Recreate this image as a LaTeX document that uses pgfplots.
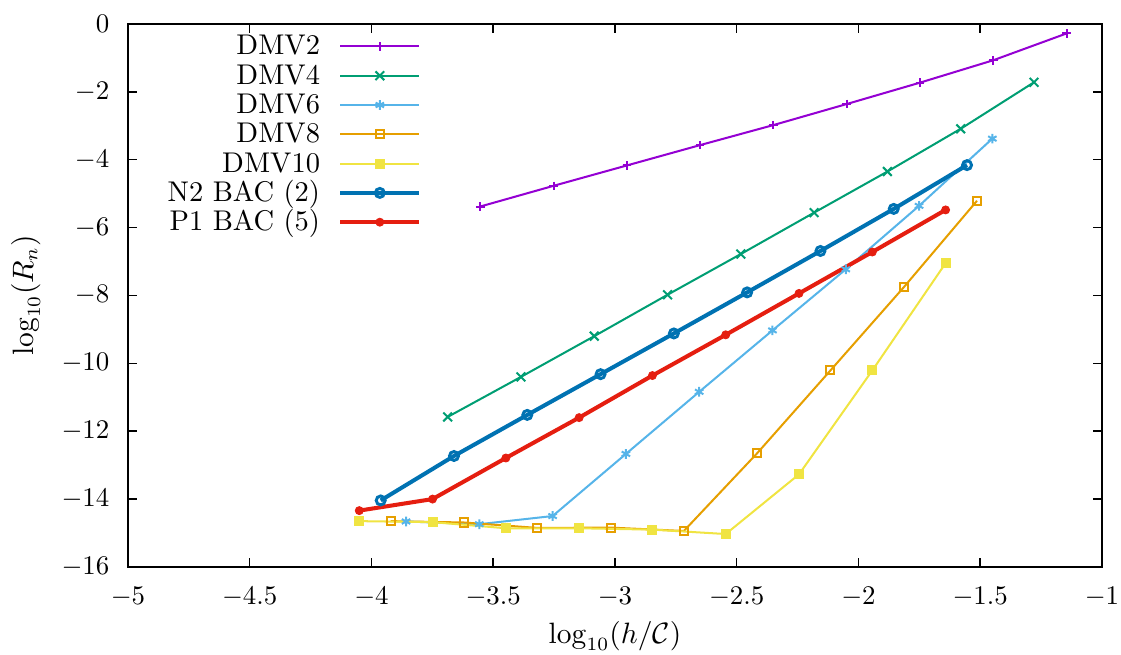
\documentclass[border=0pt]{standalone}
\usepackage{pgfplots}
\pgfplotsset{compat=1.18}
\definecolor{cDMVa}{HTML}{9400D3}
\definecolor{cDMVb}{HTML}{009E73}
\definecolor{cDMVc}{HTML}{56B4E9}
\definecolor{cDMVd}{HTML}{E69F00}
\definecolor{cDMVe}{HTML}{F0E442}
\definecolor{cNtwo}{HTML}{0072B2}
\definecolor{cPone}{HTML}{E51E10}
\begin{document}
\begin{tikzpicture}
\begin{axis}[
  scale only axis, width=362.3pt, height=202pt,
  xmin=-5, xmax=-1, ymin=-16, ymax=0,
  xtick={-5,-4.5,-4,-3.5,-3,-2.5,-2,-1.5,-1},
  ytick={-16,-14,-12,-10,-8,-6,-4,-2,0},
  major tick length=3.3pt,
  tick style={black, line width=0.55pt},
  axis line style={line width=0.7pt},
  xticklabel style={yshift=-4.1pt},
  yticklabel style={xshift=-3.4pt},
  xlabel={$\log_{10}(h/\mathcal{C})$},
  ylabel={$\log_{10}(R_n)$},
  label style={font=\fontsize{10.6}{12.7}\selectfont},
  xlabel style={at={(axis description cs:0.5,0)}, yshift=-28.3pt, anchor=base},
  ylabel style={at={(axis description cs:0,0.5)}, yshift=35.3pt, anchor=base},
  legend plot pos=right,
  legend cell align=right,
  legend style={draw=none, fill=none, at={(0.3018,0.9866)}, anchor=north east,
    inner sep=0pt, row sep=0pt, column sep=3.4pt,
    font=\fontsize{10.6}{12.7}\selectfont,
    nodes={inner xsep=3.4pt, inner ysep=0pt, text height=8.6pt, text depth=2.3pt}},
  legend image code/.code={\draw[mark repeat=2,mark phase=2,#1] plot coordinates {(0pt,0pt)(14.7pt,0pt)(29.4pt,0pt)};},
]
\addplot[cDMVa, line width=0.75pt, mark=+, mark size=1.6pt] coordinates {
(-3.553,-5.38) (-3.252,-4.77) (-2.951,-4.17) (-2.650,-3.57) (-2.349,-2.98)
(-2.048,-2.36) (-1.747,-1.73) (-1.446,-1.07) (-1.145,-0.28)};
\addlegendentry{DMV2}
\addplot[cDMVb, line width=0.75pt, mark=x, mark size=2.3pt] coordinates {
(-3.687,-11.58) (-3.386,-10.40) (-3.085,-9.20) (-2.784,-7.98) (-2.483,-6.78)
(-2.182,-5.56) (-1.881,-4.35) (-1.580,-3.09) (-1.279,-1.72)};
\addlegendentry{DMV4}
\addplot[cDMVc, line width=0.75pt, mark=asterisk, mark size=1.8pt] coordinates {
(-3.858,-14.66) (-3.557,-14.74) (-3.256,-14.50) (-2.955,-12.67) (-2.654,-10.84)
(-2.353,-9.03) (-2.052,-7.23) (-1.751,-5.36) (-1.450,-3.38)};
\addlegendentry{DMV6}
\addplot[cDMVd, line width=0.75pt, mark=square, mark size=1.5pt] coordinates {
(-3.921,-14.65) (-3.620,-14.69) (-3.319,-14.85) (-3.018,-14.84) (-2.717,-14.94)
(-2.416,-12.65) (-2.115,-10.21) (-1.814,-7.76) (-1.513,-5.21)};
\addlegendentry{DMV8}
\addplot[cDMVe, line width=0.75pt, mark=square*, mark size=1.5pt] coordinates {
(-4.050,-14.65) (-3.749,-14.68) (-3.448,-14.86) (-3.147,-14.86) (-2.846,-14.90)
(-2.545,-15.03) (-2.244,-13.27) (-1.943,-10.21) (-1.642,-7.05)};
\addlegendentry{DMV10}
\addplot[cNtwo, line width=1.5pt, mark=o, mark size=1.67pt, mark options={line width=1.1pt}] coordinates {
(-3.962,-14.04) (-3.661,-12.73) (-3.360,-11.52) (-3.059,-10.32) (-2.758,-9.12)
(-2.457,-7.91) (-2.156,-6.69) (-1.855,-5.45) (-1.554,-4.16)};
\addlegendentry{N2 BAC (2)}
\addplot[cPone, line width=1.5pt, mark=*, mark size=1.5pt, mark options={line width=0.3pt}] coordinates {
(-4.050,-14.34) (-3.749,-14.00) (-3.448,-12.79) (-3.147,-11.60) (-2.846,-10.36)
(-2.545,-9.16) (-2.244,-7.94) (-1.943,-6.72) (-1.642,-5.48)};
\addlegendentry{P1 BAC (5)}
\end{axis}
\pgfresetboundingbox
\path[use as bounding box] ([shift={(-47.6pt,-32.7pt)}]current axis.south west) rectangle ([shift={(7.1pt,8.9pt)}]current axis.north east);
\end{tikzpicture}
\end{document}
